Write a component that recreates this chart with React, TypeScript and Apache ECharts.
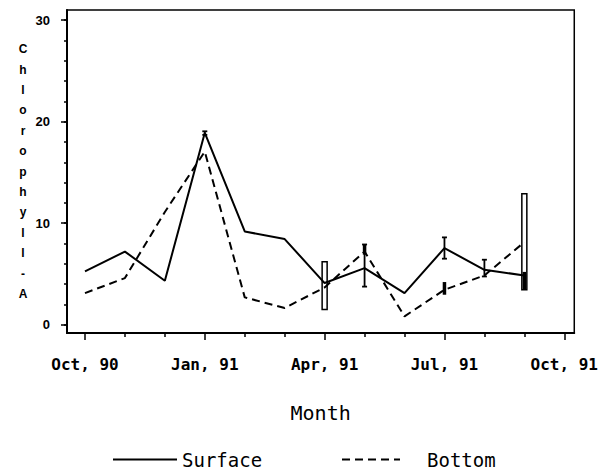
import React, { useEffect, useRef } from 'react';
import * as echarts from 'echarts';

// Month index: 0 = Oct 90 ... 11 = Sep 91
const months = [0, 1, 2, 3, 4, 5, 6, 7, 8, 9, 10, 11];
const surface = [5.25, 7.2, 4.33, 18.9, 9.18, 8.43, 4.1, 5.57, 3.11, 7.54, 5.41, 4.85];
const bottom = [3.11, 4.59, 11.1, 17.05, 2.69, 1.64, 3.67, 7.21, 0.82, 3.44, 4.85, 8.13];

const xTickValues = [0, 3, 6, 9, 12];
const xTickLabels = ['Oct, 90', 'Jan, 91', 'Apr, 91', 'Jul, 91', 'Oct, 91'];
const xMinorTicks = [1, 2, 4, 5, 7, 8, 10, 11];
const yTickValues = [0, 10, 20, 30];
const yMinorTicks = [0, 2, 4, 6, 8, 10, 12, 14, 16, 18, 20, 22, 24, 26, 28, 30];

// error bars
const openBarX = [6, 11];
const openBarLow = [1.5, 3.45];
const openBarHigh = [6.2, 12.9];
const solidBarX = [7, 9, 11];
const solidBarLow = [6.9, 2.95, 3.45];
const solidBarHigh = [7.95, 4.2, 5.2];
const capBarX = [3, 7, 9, 10];
const capBarLow = [18.7, 3.75, 6.5, 4.75];
const capBarHigh = [19.05, 7.9, 8.6, 6.4];

const yTitle = 'Chlorophyll-A';

export default function App() {
  const ref = useRef<HTMLDivElement>(null);
  useEffect(() => {
    if (!ref.current) return;
    const chart = echarts.init(ref.current, undefined, { renderer: 'svg' });
    const black = '#000';
    const mono = 'DejaVu Sans Mono';
    const xMin = -0.45, xMax = 12.25, yMin = -0.82, yMax = 31;

    const openRender = (params: any, api: any) => {
      const x = api.value(0);
      const lo = api.coord([x, api.value(1)]);
      const hi = api.coord([x, api.value(2)]);
      return {
        type: 'rect',
        shape: { x: hi[0] - 2.5, y: hi[1], width: 5, height: lo[1] - hi[1] },
        style: { fill: '#fff', stroke: black, lineWidth: 1.5 },
      };
    };
    const solidRender = (params: any, api: any) => {
      const x = api.value(0);
      const lo = api.coord([x, api.value(1)]);
      const hi = api.coord([x, api.value(2)]);
      return {
        type: 'rect',
        shape: { x: hi[0] - 1.75, y: hi[1], width: 3.5, height: lo[1] - hi[1] },
        style: { fill: black },
      };
    };
    const capRender = (params: any, api: any) => {
      const x = api.value(0);
      const lo = api.coord([x, api.value(1)]);
      const hi = api.coord([x, api.value(2)]);
      const st = { stroke: black, lineWidth: 1.8 };
      return {
        type: 'group',
        children: [
          { type: 'line', shape: { x1: lo[0], y1: lo[1], x2: hi[0], y2: hi[1] }, style: st },
          { type: 'line', shape: { x1: lo[0] - 2.5, y1: lo[1], x2: lo[0] + 2.5, y2: lo[1] }, style: st },
          { type: 'line', shape: { x1: hi[0] - 2.5, y1: hi[1], x2: hi[0] + 2.5, y2: hi[1] }, style: st },
        ],
      };
    };

    const legendText = { fontFamily: mono, fontSize: 19, lineHeight: 19, color: black };

    chart.setOption({
      animation: false,
      backgroundColor: '#fff',
      grid: {
        left: 67, right: 26, top: 10, bottom: 139,
        show: true, borderColor: black, borderWidth: 1.5,
      },
      legend: [
        {
          data: ['Surface'], left: 112, top: 450, padding: 0,
          itemWidth: 64, itemHeight: 14,
          itemStyle: { opacity: 0 },
          textStyle: legendText,
        },
        {
          data: ['Bottom'], left: 341, top: 450, padding: 0,
          itemWidth: 58, itemHeight: 14,
          itemStyle: { opacity: 0 },
          formatter: (name: string) => '{gap| }' + name,
          textStyle: { ...legendText, rich: { gap: { width: 22, fontFamily: mono, fontSize: 19, lineHeight: 19 } } },
        },
      ],
      xAxis: [
        {
          type: 'value', min: xMin, max: xMax, position: 'bottom',
          axisLine: { show: true, onZero: false, lineStyle: { color: black, width: 2 } },
          axisTick: { show: true, customValues: xTickValues, length: 7, lineStyle: { color: black, width: 1.5 } },
          axisLabel: {
            customValues: xTickValues,
            formatter: (v: number) => {
              const i = xTickValues.indexOf(Math.round(v));
              return i >= 0 ? xTickLabels[i] : '';
            },
            margin: 23, color: black, fontFamily: mono, fontWeight: 'bold', fontSize: 16,
          },
          splitLine: { show: false },
          name: 'Month', nameLocation: 'middle', nameGap: 70,
          nameTextStyle: { fontFamily: mono, fontSize: 20, color: black },
        },
        {
          type: 'value', min: xMin, max: xMax, position: 'bottom',
          axisLine: { show: false, onZero: false },
          axisTick: { show: true, customValues: xMinorTicks, length: 4, lineStyle: { color: black, width: 1.5 } },
          axisLabel: { show: false },
          splitLine: { show: false },
        },
      ],
      yAxis: [
        {
          type: 'value', min: yMin, max: yMax, position: 'left',
          axisLine: { show: true, onZero: false, lineStyle: { color: black, width: 2 } },
          axisTick: { show: true, customValues: yMinorTicks, length: 3, lineStyle: { color: black, width: 1.5 } },
          axisLabel: { show: false },
          splitLine: { show: false },
          name: yTitle.split('').join('\n'), nameLocation: 'middle', nameGap: 44, nameRotate: 0,
          nameTextStyle: {
            align: 'center', verticalAlign: 'middle', lineHeight: 20.4,
            fontFamily: 'Liberation Sans', fontWeight: 'bold', fontSize: 12, color: black,
          },
        },
        {
          type: 'value', min: yMin, max: yMax, position: 'left',
          axisLine: { show: false, onZero: false },
          axisTick: { show: true, customValues: yTickValues, length: 6, lineStyle: { color: black, width: 1.5 } },
          axisLabel: {
            customValues: yTickValues, margin: 17, color: black,
            fontFamily: 'Liberation Sans', fontWeight: 'bold', fontSize: 13,
          },
          splitLine: { show: false },
        },
      ],
      series: [
        {
          type: 'custom', name: 'openBars', renderItem: openRender,
          encode: { x: 0, y: [1, 2] },
          data: openBarX.map((x, i) => [x, openBarLow[i], openBarHigh[i]]),
        },
        {
          type: 'line', name: 'Surface', symbol: 'none',
          data: months.map((m, i) => [m, surface[i]]),
          lineStyle: { color: black, width: 2, type: 'solid' },
          itemStyle: { color: black },
        },
        {
          type: 'line', name: 'Bottom', symbol: 'none',
          data: months.map((m, i) => [m, bottom[i]]),
          lineStyle: { color: black, width: 2, type: [8, 5] },
          itemStyle: { color: black },
        },
        {
          type: 'custom', name: 'solidBars', renderItem: solidRender,
          encode: { x: 0, y: [1, 2] },
          data: solidBarX.map((x, i) => [x, solidBarLow[i], solidBarHigh[i]]),
        },
        {
          type: 'custom', name: 'capBars', renderItem: capRender,
          encode: { x: 0, y: [1, 2] },
          data: capBarX.map((x, i) => [x, capBarLow[i], capBarHigh[i]]),
        },
      ],
    });
    return () => chart.dispose();
  }, []);
  return (
    <div
      ref={ref}
      style={{ position: 'absolute', left: 0, top: 0, width: 601, height: 472, background: '#fff' }}
    />
  );
}
